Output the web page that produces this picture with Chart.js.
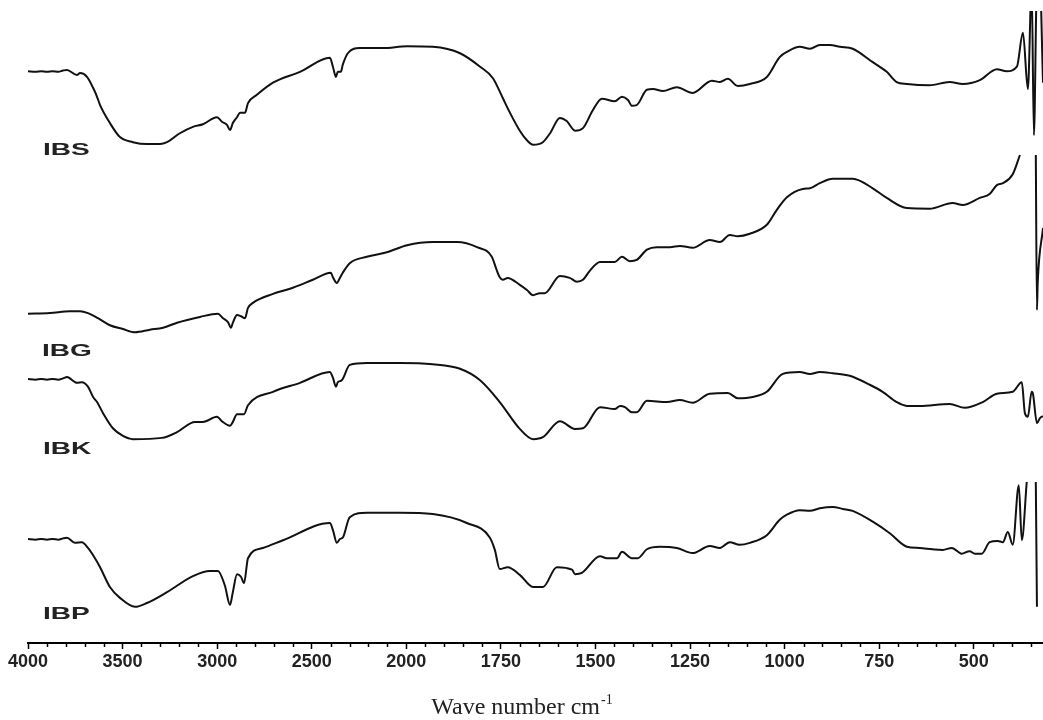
<!DOCTYPE html>
<html>
<head>
<meta charset="utf-8">
<script src="https://cdn.jsdelivr.net/npm/chart.js@4.4.1/dist/chart.umd.min.js"></script>
<style>
    html, body { margin: 0; padding: 0; background: #fff; }
    #wrap { width: 1043px; height: 720px; }
</style>
</head>
<body>
<div id="wrap"><canvas id="chart" width="1043" height="720"></canvas></div>
<script>
// tick labels of the wavenumber axis (scale doubles below 2000)
const tickLabels = [4000, 3500, 3000, 2500, 2000, 1750, 1500, 1250, 1000, 750, 500];
const seriesNames = ["IBS", "IBG", "IBK", "IBP"];

// IBS trace: wavenumber (cm-1) / transmittance (arb. units, offset)
const ibsWn = [4000, 3960, 3930, 3900, 3870, 3840, 3815, 3794, 3741, 3725, 3688, 3656, 3635, 3619, 3567, 3514, 3445, 3371, 3302, 3265, 3197, 3128, 3075, 3001, 2975, 2948, 2932, 2917, 2895, 2879, 2853, 2837, 2790, 2705, 2562, 2404, 2388, 2372, 2362, 2346, 2336, 2309, 2246, 2124, 1998, 1930, 1858, 1805, 1771, 1745, 1726, 1700, 1681, 1665, 1639, 1620, 1594, 1576, 1554, 1533, 1507, 1483, 1449, 1430, 1414, 1404, 1391, 1364, 1348, 1322, 1285, 1243, 1192, 1171, 1150, 1124, 1092, 1047, 1013, 994, 960, 933, 907, 880, 854, 820, 767, 730, 704, 677, 617, 564, 529, 484, 439, 413, 386, 370, 357, 347, 341, 333, 325, 317];
const ibsT = [90.6, 90.5, 90.6, 90.5, 90.6, 90.5, 90.7, 90.8, 90.0, 90.3, 89.7, 88.0, 86.6, 85.3, 82.5, 80.3, 79.5, 79.2, 79.2, 79.5, 80.9, 81.9, 82.3, 83.4, 82.7, 82.2, 81.4, 82.5, 83.4, 84.1, 84.1, 85.6, 86.9, 88.8, 90.5, 92.7, 91.3, 89.7, 90.5, 90.5, 91.6, 93.4, 94.2, 94.2, 94.5, 94.4, 93.4, 91.3, 89.5, 86.4, 84.1, 81.3, 79.8, 79.1, 79.5, 80.9, 83.3, 82.8, 81.3, 81.7, 84.5, 86.3, 85.9, 86.6, 86.1, 85.2, 85.3, 87.7, 87.8, 87.5, 88.1, 87.2, 89.1, 88.9, 89.4, 88.3, 88.6, 89.7, 92.8, 93.6, 94.4, 94.1, 94.7, 94.7, 94.4, 94.1, 92.0, 90.5, 88.9, 88.6, 88.4, 88.9, 88.6, 89.2, 90.9, 90.6, 91.3, 96.6, 87.8, 104, 80.6, 104, 104, 88.8];

const ibgWn = [4000, 3884, 3778, 3725, 3683, 3630, 3567, 3498, 3434, 3355, 3286, 3212, 3091, 2996, 2969, 2943, 2927, 2917, 2895, 2874, 2853, 2837, 2811, 2705, 2615, 2494, 2399, 2388, 2367, 2351, 2336, 2299, 2209, 2103, 1998, 1930, 1866, 1813, 1774, 1761, 1753, 1745, 1732, 1700, 1681, 1665, 1647, 1634, 1594, 1568, 1549, 1533, 1515, 1488, 1470, 1449, 1430, 1409, 1391, 1364, 1338, 1303, 1277, 1243, 1198, 1171, 1145, 1124, 1092, 1047, 1021, 994, 952, 933, 907, 873, 820, 767, 730, 677, 617, 556, 529, 484, 458, 439, 423, 397, 378, 357, 336, 333, 331, 317];
const ibgT = [52.7, 52.8, 53.1, 53.1, 52.8, 52.0, 50.9, 50.3, 49.8, 50.2, 50.5, 51.3, 52.2, 52.7, 52.0, 51.4, 50.5, 51.3, 52.5, 52.3, 52.0, 53.6, 54.4, 55.8, 56.6, 58.0, 59.1, 58.4, 57.5, 58.3, 59.1, 60.6, 61.6, 62.3, 63.4, 63.9, 63.9, 63.1, 61.6, 59.5, 58.4, 58.0, 58.3, 57.2, 56.4, 55.6, 55.9, 55.9, 58.6, 58.3, 57.7, 58.0, 59.4, 60.8, 60.8, 60.8, 61.6, 60.9, 61.1, 62.7, 63.1, 63.1, 63.3, 63.0, 64.2, 63.9, 65.0, 64.8, 65.2, 66.6, 68.9, 70.9, 72.2, 72.3, 73.1, 73.8, 73.8, 72.3, 70.8, 69.2, 69.1, 70.0, 69.7, 70.8, 71.4, 72.8, 73.1, 74.5, 77.5, null, 77.5, 53.3, 57.5, 66.1];

const ibkWn = [4000, 3960, 3930, 3900, 3870, 3840, 3815, 3794, 3741, 3715, 3683, 3656, 3635, 3604, 3551, 3498, 3445, 3292, 3212, 3117, 3075, 3001, 2975, 2932, 2917, 2895, 2858, 2837, 2705, 2562, 2404, 2388, 2372, 2362, 2341, 2299, 2209, 2034, 1930, 1858, 1805, 1753, 1700, 1665, 1639, 1594, 1554, 1533, 1488, 1449, 1435, 1422, 1404, 1391, 1364, 1311, 1277, 1243, 1198, 1150, 1124, 1084, 1047, 1005, 960, 933, 907, 873, 828, 775, 741, 704, 677, 643, 564, 524, 476, 439, 397, 373, 365, 357, 347, 344, 333, 325, 317];
const ibkT = [42.5, 42.4, 42.5, 42.4, 42.5, 42.4, 42.6, 42.8, 41.9, 42.0, 41.3, 39.7, 38.9, 37.2, 34.8, 33.6, 33.1, 33.3, 34.2, 35.8, 35.8, 36.6, 35.9, 35.2, 35.8, 37.0, 37.0, 38.4, 40.5, 41.9, 43.6, 42.7, 41.3, 42.0, 42.3, 44.7, 45.0, 45.0, 44.8, 44.1, 42.3, 38.9, 34.7, 33.1, 33.4, 35.9, 34.7, 34.8, 38.1, 37.8, 38.3, 38.1, 37.3, 37.3, 39.1, 38.9, 39.2, 38.8, 40.2, 40.3, 39.5, 39.7, 40.5, 43.3, 43.6, 43.3, 43.6, 43.4, 43.0, 41.6, 40.5, 38.9, 38.3, 38.3, 38.6, 38.0, 38.9, 40.2, 40.5, 42.0, 37.2, 36.6, 40.5, 40.3, 35.6, 36.4, 36.7];

const ibpWn = [4000, 3960, 3930, 3900, 3870, 3840, 3815, 3794, 3752, 3715, 3683, 3646, 3619, 3567, 3514, 3434, 3371, 3265, 3128, 3038, 2996, 2959, 2932, 2917, 2895, 2874, 2858, 2837, 2758, 2652, 2404, 2388, 2367, 2351, 2336, 2299, 2209, 2034, 1930, 1840, 1779, 1766, 1753, 1732, 1700, 1665, 1639, 1602, 1562, 1554, 1536, 1488, 1470, 1443, 1430, 1404, 1388, 1364, 1330, 1285, 1243, 1198, 1171, 1145, 1119, 1092, 1047, 1013, 994, 960, 933, 907, 873, 846, 820, 767, 722, 677, 643, 609, 582, 558, 532, 511, 497, 479, 458, 437, 423, 410, 397, 381, 373, 360, 349, 336, 333];
const ibpT = [17.5, 17.4, 17.5, 17.4, 17.5, 17.4, 17.6, 17.7, 16.9, 17.0, 16.1, 14.5, 13.1, 10.0, 8.3, 6.9, 7.5, 9.2, 11.7, 12.5, 12.5, 10.2, 7.2, 9.2, 12.0, 11.6, 10.6, 14.5, 16.1, 17.3, 20.0, 18.9, 16.9, 17.5, 17.7, 20.9, 21.6, 21.6, 21.4, 20.0, 17.7, 15.8, 12.8, 13.1, 11.9, 10.0, 10.0, 13.1, 12.7, 12.0, 12.2, 14.8, 14.5, 14.5, 15.5, 14.5, 14.5, 15.9, 16.3, 16.1, 15.3, 16.4, 16.1, 17.0, 16.6, 16.9, 18.1, 20.5, 21.3, 22.0, 21.9, 22.3, 22.5, 22.2, 21.9, 20.2, 18.4, 16.3, 16.1, 15.9, 15.8, 16.1, 15.2, 15.6, 15.2, 15.2, 17.0, 17.2, 17.0, 18.6, 16.6, 25.9, 17.3, 26.4, null, 26.4, 6.9];

const X_START = 4000;
const X_BREAK = 2000;
const X_END = 317;

// axis is linear in "u": 500 cm-1 per unit above 2000, 250 cm-1 per unit below
function toU(wn) {
    return wn >= X_BREAK ? (X_START - wn) / 500 : (X_START - X_BREAK) / 500 + (X_BREAK - wn) / 250;
}

function toPoints(wn, t) {
    return wn.map((w, i) => ({ x: toU(w), y: t[i] }));
}

const labelSpots = [
    { wn: 3921, t: 78.2 },
    { wn: 3926, t: 46.9 },
    { wn: 3921, t: 31.5 },
    { wn: 3921, t: 5.8 },
];

const allSeries = [
    [ibsWn, ibsT],
    [ibgWn, ibgT],
    [ibkWn, ibkT],
    [ibpWn, ibpT],
];

// minor ticks, labels on the traces and the axis title
const extras = {
    id: "extras",
    afterDraw(chart) {
        const ctx = chart.ctx;
        const xs = chart.scales.x;
        const ys = chart.scales.y;
        const bottom = chart.chartArea.bottom;
        ctx.save();

        ctx.strokeStyle = "#000";
        ctx.lineWidth = 1.5;
        const minors = [];
        for (let w = X_START; w >= X_BREAK; w -= 100) minors.push(w);
        for (let w = X_BREAK - 50; w >= X_END; w -= 50) minors.push(w);
        minors.filter(w => !tickLabels.includes(w)).forEach(w => {
            const px = Math.round(xs.getPixelForValue(toU(w))) + 0.5;
            ctx.beginPath();
            ctx.moveTo(px, bottom);
            ctx.lineTo(px, bottom + 4);
            ctx.stroke();
        });

        ctx.fillStyle = "#222";
        ctx.font = 'bold 17px "Liberation Sans", Arial, sans-serif';
        ctx.textBaseline = "middle";
        ctx.textAlign = "left";
        seriesNames.forEach((name, i) => {
            const spot = labelSpots[i];
            ctx.save();
            ctx.translate(xs.getPixelForValue(toU(spot.wn)), ys.getPixelForValue(spot.t));
            ctx.scale(1.65, 1);
            ctx.fillText(name, 0, 0);
            ctx.restore();
        });

        // "Wave number cm-1" with a raised -1
        const main = "Wave number cm";
        const sup = "-1";
        ctx.fillStyle = "#222";
        ctx.textBaseline = "alphabetic";
        ctx.font = '24px "Liberation Serif", "DejaVu Serif", serif';
        const w1 = ctx.measureText(main).width;
        ctx.font = '14px "Liberation Serif", "DejaVu Serif", serif';
        const w2 = ctx.measureText(sup).width;
        const x0 = chart.width / 2 - (w1 + w2) / 2;
        const base = 714;
        ctx.font = '24px "Liberation Serif", "DejaVu Serif", serif';
        ctx.fillText(main, x0, base);
        ctx.font = '14px "Liberation Serif", "DejaVu Serif", serif';
        ctx.fillText(sup, x0 + w1 + 1, base - 10);

        ctx.restore();
    },
};

new Chart(document.getElementById("chart"), {
    type: "line",
    data: {
        datasets: allSeries.map(([wn, t], i) => ({
            label: seriesNames[i],
            data: toPoints(wn, t),
            borderColor: "#111",
            borderWidth: 2,
            pointRadius: 0,
            cubicInterpolationMode: "monotone",
            fill: false,
            spanGaps: false,
        })),
    },
    options: {
        responsive: false,
        animation: false,
        devicePixelRatio: 1,
        layout: { padding: { left: 28, right: 0, top: 11, bottom: 0 } },
        plugins: {
            legend: { display: false },
            tooltip: { enabled: false },
        },
        scales: {
            x: {
                type: "linear",
                min: 0,
                max: toU(X_END),
                afterBuildTicks: scale => {
                    scale.ticks = tickLabels.map(w => ({ value: toU(w) }));
                },
                afterFit: scale => {
                    scale.height = 77;
                },
                border: { display: true, color: "#000", width: 2 },
                grid: {
                    display: true,
                    drawOnChartArea: false,
                    drawTicks: true,
                    tickLength: 6,
                    tickColor: "#000",
                    tickWidth: 1.5,
                },
                ticks: {
                    autoSkip: false,
                    maxRotation: 0,
                    padding: 2,
                    color: "#222",
                    font: { family: '"Liberation Sans", Arial, sans-serif', size: 18, weight: "bold" },
                    callback: (value, index) => String(tickLabels[index]),
                },
            },
            y: {
                display: false,
                min: 1.25,
                max: 100,
            },
        },
    },
    plugins: [extras],
});
</script>
</body>
</html>
